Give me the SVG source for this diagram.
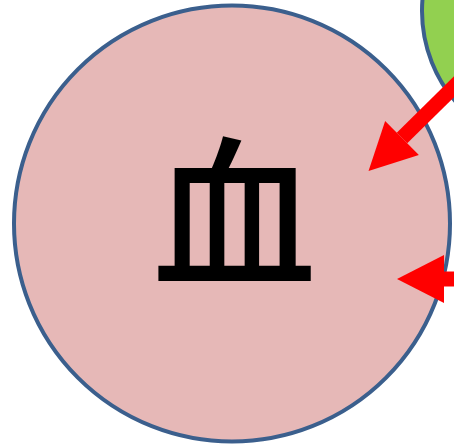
<svg xmlns="http://www.w3.org/2000/svg" width="454" height="444" viewBox="0 0 454 444">
  <style>
    .node { stroke: #3B5F8D; stroke-width: 4; }
    .label { font-family: "Noto Sans CJK SC", "Noto Sans CJK JP", sans-serif; font-weight: 500; fill: #000000; }
    .conn { stroke: #FF0000; stroke-width: 15; fill: none; }
  </style>
  <defs>
    <marker id="head" markerUnits="userSpaceOnUse" markerWidth="60" markerHeight="60" refX="0" refY="0" orient="auto" overflow="visible">
      <path d="M0,-24 L47,0 L0,24 Z" fill="#FF0000"/>
    </marker>
  </defs>
  <rect width="454" height="444" fill="#FFFFFF"/>
  <g id="node-green">
    <circle class="node" cx="561" cy="11" r="139" fill="#92D050"/>
  </g>
  <g id="node-blood">
    <circle class="node" cx="232" cy="223.5" r="218" fill="#E6B8B7"/>
    <text class="label" x="234.5" y="275" font-size="164" text-anchor="middle">血</text>
  </g>
  <g id="connectors">
    <line class="conn" x1="472" y1="69" x2="402" y2="138" marker-end="url(#head)"/>
    <line class="conn" x1="472" y1="279" x2="444" y2="279" marker-end="url(#head)"/>
  </g>
</svg>
